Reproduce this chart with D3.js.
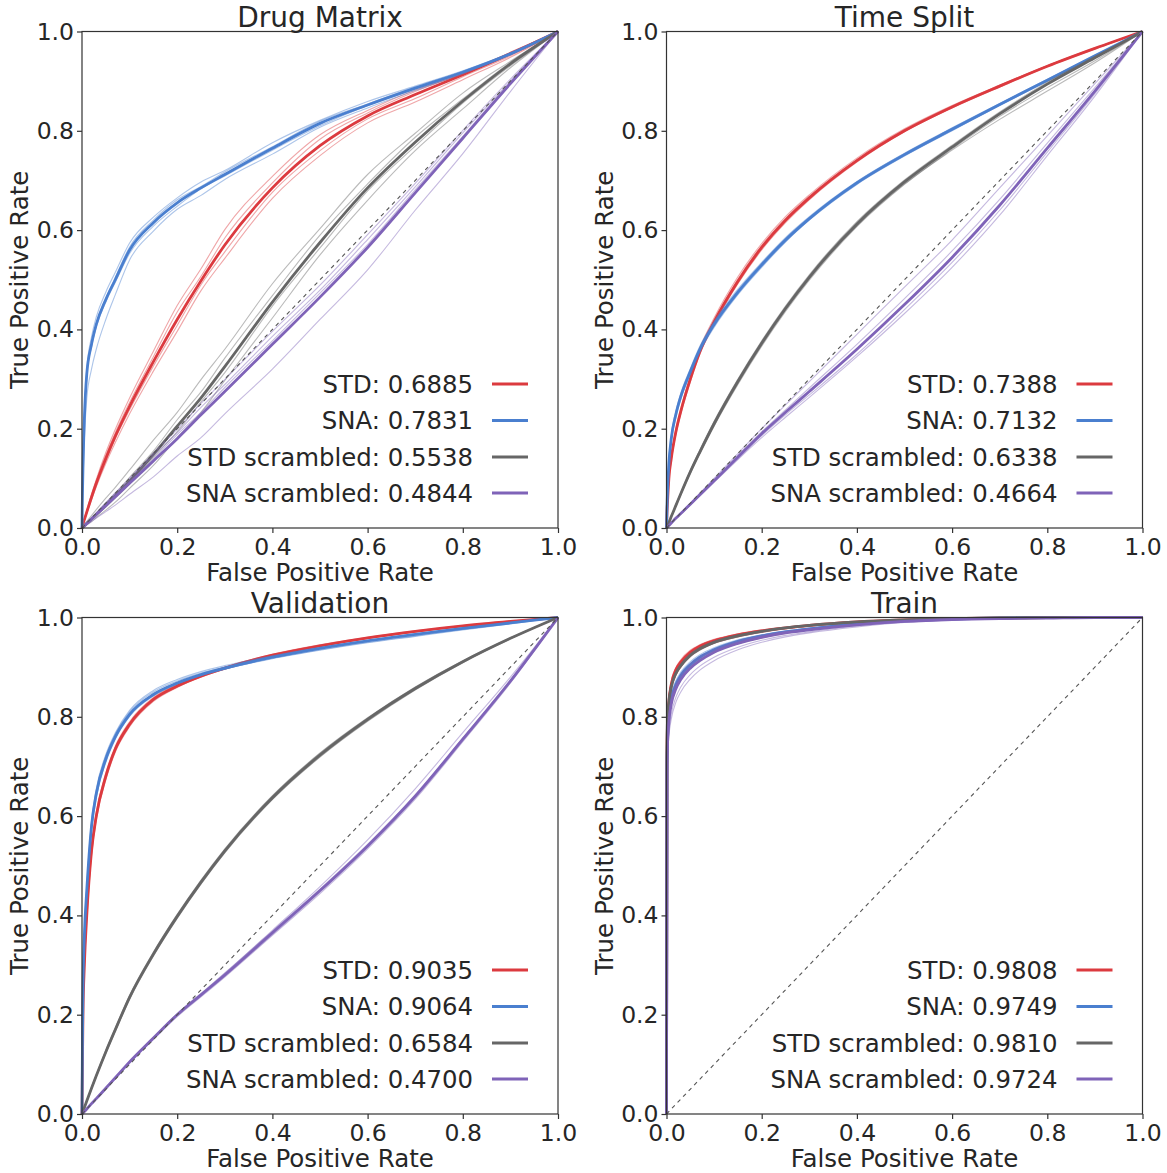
<!DOCTYPE html>
<html>
<head>
<meta charset="utf-8">
<script src="https://cdn.jsdelivr.net/npm/d3@7"></script>
<style>
  body { margin: 0; background: #ffffff; }
  svg text { font-family: "DejaVu Sans", sans-serif; fill: #262626; }
</style>
</head>
<body>
<svg id="chart" width="1167" height="1173"></svg>
<script>
// False positive rate grid shared by every ROC curve
const fpr = [0, 0.001, 0.002, 0.005, 0.01, 0.02, 0.03, 0.05, 0.07, 0.1, 0.15, 0.2, 0.25, 0.3, 0.4, 0.5, 0.6, 0.7, 0.8, 0.9, 1];

const panelTitles = ["Drug Matrix", "Time Split", "Validation", "Train"];
const seriesNames = ["STD", "SNA", "STD scrambled", "SNA scrambled"];
const seriesColors = ["#dc3a3f", "#4a7fcf", "#666666", "#7f63b8"];
const tickValues = [0, 0.2, 0.4, 0.6, 0.8, 1.0];

// Mean AUC per panel, in series order
const aucDrugMatrix = [0.6885, 0.7831, 0.5538, 0.4844];
const aucTimeSplit = [0.7388, 0.7132, 0.6338, 0.4664];
const aucValidation = [0.9035, 0.9064, 0.6584, 0.4700];
const aucTrain = [0.9808, 0.9749, 0.9810, 0.9724];

// ---------- Drug Matrix: mean TPR and per-fold TPR ----------
const dmStdMean = [0, 0.004, 0.008, 0.017, 0.032, 0.062, 0.09, 0.14, 0.185, 0.245, 0.335, 0.42, 0.498, 0.57, 0.685, 0.77, 0.83, 0.873, 0.913, 0.955, 1];
const dmStdFolds = [
  [0, 0.004, 0.009, 0.019, 0.036, 0.068, 0.098, 0.152, 0.199, 0.262, 0.356, 0.448, 0.522, 0.601, 0.708, 0.792, 0.841, 0.882, 0.915, 0.958, 1],
  [0, 0.003, 0.007, 0.015, 0.029, 0.057, 0.083, 0.13, 0.172, 0.23, 0.316, 0.396, 0.478, 0.543, 0.664, 0.75, 0.816, 0.858, 0.903, 0.948, 1],
  [0, 0.004, 0.008, 0.018, 0.034, 0.065, 0.094, 0.146, 0.192, 0.253, 0.345, 0.435, 0.507, 0.584, 0.695, 0.783, 0.836, 0.879, 0.916, 0.958, 1],
  [0, 0.003, 0.007, 0.016, 0.031, 0.06, 0.087, 0.135, 0.18, 0.238, 0.326, 0.408, 0.49, 0.556, 0.676, 0.76, 0.824, 0.865, 0.909, 0.951, 1]
];
const dmSnaMean = [0, 0.07, 0.12, 0.22, 0.31, 0.37, 0.41, 0.46, 0.50, 0.56, 0.615, 0.655, 0.685, 0.712, 0.765, 0.815, 0.852, 0.886, 0.918, 0.955, 1];
const dmSnaFolds = [
  [0, 0.05, 0.09, 0.18, 0.26, 0.32, 0.36, 0.42, 0.47, 0.54, 0.598, 0.642, 0.67, 0.702, 0.753, 0.807, 0.846, 0.881, 0.915, 0.953, 1],
  [0, 0.08, 0.13, 0.23, 0.32, 0.385, 0.425, 0.475, 0.515, 0.574, 0.626, 0.665, 0.697, 0.72, 0.776, 0.821, 0.859, 0.89, 0.921, 0.957, 1],
  [0, 0.07, 0.125, 0.225, 0.315, 0.372, 0.41, 0.462, 0.505, 0.566, 0.62, 0.661, 0.688, 0.717, 0.768, 0.819, 0.854, 0.888, 0.92, 0.956, 1],
  [0, 0.065, 0.115, 0.215, 0.305, 0.365, 0.405, 0.455, 0.495, 0.553, 0.608, 0.648, 0.683, 0.709, 0.761, 0.81, 0.851, 0.884, 0.917, 0.954, 1]
];
const dmStdScrMean = [0, 0.001, 0.002, 0.005, 0.009, 0.018, 0.027, 0.046, 0.065, 0.095, 0.148, 0.205, 0.262, 0.325, 0.455, 0.575, 0.685, 0.777, 0.86, 0.935, 1];
const dmStdScrFolds = [
  [0, 0.002, 0.003, 0.007, 0.013, 0.025, 0.037, 0.06, 0.082, 0.117, 0.177, 0.233, 0.299, 0.36, 0.492, 0.603, 0.712, 0.795, 0.876, 0.94, 1],
  [0, 0.001, 0.002, 0.005, 0.01, 0.02, 0.03, 0.05, 0.07, 0.102, 0.155, 0.218, 0.274, 0.342, 0.468, 0.59, 0.693, 0.787, 0.864, 0.938, 1],
  [0, 0.001, 0.002, 0.004, 0.008, 0.016, 0.025, 0.042, 0.06, 0.089, 0.142, 0.194, 0.254, 0.313, 0.447, 0.564, 0.679, 0.769, 0.856, 0.931, 1],
  [0, 0.001, 0.001, 0.003, 0.007, 0.013, 0.021, 0.036, 0.052, 0.08, 0.126, 0.182, 0.233, 0.297, 0.423, 0.55, 0.66, 0.76, 0.844, 0.927, 1]
];
const dmSnaScrMean = [0, 0.001, 0.002, 0.004, 0.009, 0.018, 0.027, 0.045, 0.063, 0.09, 0.135, 0.18, 0.228, 0.275, 0.37, 0.465, 0.565, 0.675, 0.785, 0.895, 1];
const dmSnaScrFolds = [
  [0, 0, 0.001, 0.003, 0.006, 0.013, 0.02, 0.033, 0.046, 0.068, 0.103, 0.145, 0.182, 0.23, 0.32, 0.42, 0.52, 0.64, 0.754, 0.879, 1],
  [0, 0.001, 0.002, 0.005, 0.01, 0.02, 0.03, 0.05, 0.069, 0.098, 0.146, 0.192, 0.243, 0.289, 0.386, 0.479, 0.581, 0.687, 0.796, 0.9, 1],
  [0, 0.001, 0.002, 0.005, 0.01, 0.019, 0.029, 0.047, 0.066, 0.094, 0.139, 0.188, 0.233, 0.283, 0.377, 0.473, 0.571, 0.681, 0.789, 0.898, 1],
  [0, 0.001, 0.002, 0.005, 0.011, 0.021, 0.031, 0.051, 0.071, 0.1, 0.151, 0.199, 0.251, 0.299, 0.396, 0.489, 0.591, 0.694, 0.801, 0.904, 1]
];

// ---------- Time Split ----------
const tsStdMean = [0, 0.03, 0.05, 0.1, 0.14, 0.195, 0.235, 0.3, 0.355, 0.415, 0.497, 0.565, 0.62, 0.665, 0.74, 0.8, 0.848, 0.89, 0.93, 0.966, 1];
const tsStdFolds = [
  [0, 0.028, 0.048, 0.095, 0.135, 0.19, 0.23, 0.294, 0.35, 0.41, 0.492, 0.56, 0.615, 0.661, 0.737, 0.798, 0.846, 0.888, 0.929, 0.965, 1],
  [0, 0.032, 0.053, 0.104, 0.145, 0.2, 0.24, 0.306, 0.362, 0.423, 0.506, 0.573, 0.627, 0.671, 0.745, 0.804, 0.851, 0.892, 0.931, 0.967, 1],
  [0, 0.03, 0.05, 0.098, 0.138, 0.193, 0.233, 0.298, 0.356, 0.418, 0.501, 0.569, 0.623, 0.668, 0.742, 0.802, 0.849, 0.891, 0.931, 0.966, 1],
  [0, 0.029, 0.049, 0.1, 0.142, 0.197, 0.236, 0.301, 0.353, 0.412, 0.494, 0.563, 0.618, 0.663, 0.739, 0.799, 0.847, 0.889, 0.93, 0.966, 1]
];
const tsSnaMean = [0, 0.04, 0.07, 0.13, 0.18, 0.23, 0.265, 0.315, 0.36, 0.41, 0.475, 0.53, 0.58, 0.623, 0.695, 0.752, 0.803, 0.853, 0.902, 0.951, 1];
const tsSnaFolds = [
  [0, 0.038, 0.066, 0.125, 0.174, 0.224, 0.259, 0.309, 0.354, 0.404, 0.47, 0.525, 0.576, 0.62, 0.692, 0.749, 0.8, 0.851, 0.9, 0.95, 1],
  [0, 0.043, 0.074, 0.136, 0.186, 0.236, 0.271, 0.321, 0.366, 0.416, 0.481, 0.535, 0.585, 0.627, 0.698, 0.755, 0.806, 0.855, 0.904, 0.952, 1],
  [0, 0.041, 0.072, 0.132, 0.182, 0.232, 0.267, 0.318, 0.362, 0.412, 0.478, 0.533, 0.583, 0.625, 0.697, 0.754, 0.805, 0.854, 0.903, 0.951, 1],
  [0, 0.039, 0.068, 0.128, 0.178, 0.227, 0.262, 0.312, 0.357, 0.407, 0.472, 0.527, 0.577, 0.621, 0.693, 0.75, 0.801, 0.852, 0.901, 0.95, 1]
];
const tsStdScrMean = [0, 0.0022, 0.0045, 0.011, 0.023, 0.046, 0.069, 0.113, 0.153, 0.21, 0.295, 0.372, 0.442, 0.505, 0.612, 0.697, 0.767, 0.834, 0.894, 0.947, 1];
const tsStdScrFolds = [
  [0, 0.0021, 0.0044, 0.011, 0.022, 0.044, 0.067, 0.11, 0.149, 0.205, 0.289, 0.366, 0.436, 0.499, 0.607, 0.692, 0.763, 0.829, 0.887, 0.941, 1],
  [0, 0.0023, 0.0046, 0.012, 0.024, 0.048, 0.071, 0.116, 0.157, 0.215, 0.3, 0.377, 0.447, 0.51, 0.617, 0.701, 0.771, 0.838, 0.898, 0.95, 1],
  [0, 0.0022, 0.0045, 0.011, 0.023, 0.047, 0.07, 0.115, 0.155, 0.213, 0.298, 0.375, 0.445, 0.508, 0.615, 0.699, 0.769, 0.836, 0.896, 0.948, 1],
  [0, 0.0021, 0.0043, 0.01, 0.022, 0.045, 0.068, 0.111, 0.151, 0.207, 0.292, 0.369, 0.439, 0.502, 0.609, 0.693, 0.761, 0.823, 0.88, 0.937, 1]
];
const tsSnaScrMean = [0, 0.001, 0.002, 0.005, 0.01, 0.02, 0.029, 0.048, 0.067, 0.095, 0.143, 0.19, 0.233, 0.275, 0.36, 0.45, 0.545, 0.65, 0.765, 0.88, 1];
const tsSnaScrFolds = [
  [0, 0.001, 0.002, 0.005, 0.01, 0.02, 0.03, 0.05, 0.07, 0.1, 0.15, 0.2, 0.248, 0.295, 0.39, 0.485, 0.58, 0.685, 0.79, 0.895, 1],
  [0, 0.001, 0.002, 0.005, 0.01, 0.02, 0.03, 0.049, 0.068, 0.097, 0.146, 0.194, 0.238, 0.282, 0.37, 0.462, 0.558, 0.662, 0.775, 0.887, 1],
  [0, 0.001, 0.002, 0.005, 0.009, 0.019, 0.028, 0.046, 0.064, 0.092, 0.138, 0.182, 0.223, 0.263, 0.345, 0.432, 0.525, 0.63, 0.75, 0.87, 1],
  [0, 0.001, 0.002, 0.005, 0.01, 0.019, 0.028, 0.047, 0.066, 0.094, 0.14, 0.186, 0.228, 0.268, 0.35, 0.44, 0.535, 0.64, 0.757, 0.875, 1]
];

// ---------- Validation ----------
const vaStdMean = [0, 0.1, 0.2, 0.3, 0.4, 0.53, 0.6, 0.68, 0.735, 0.785, 0.835, 0.862, 0.882, 0.898, 0.924, 0.943, 0.959, 0.972, 0.983, 0.992, 1];
const vaStdFolds = [
  [0, 0.09, 0.19, 0.29, 0.39, 0.52, 0.592, 0.673, 0.729, 0.78, 0.831, 0.859, 0.88, 0.896, 0.922, 0.942, 0.958, 0.971, 0.982, 0.992, 1],
  [0, 0.11, 0.21, 0.31, 0.41, 0.54, 0.608, 0.687, 0.741, 0.79, 0.839, 0.865, 0.884, 0.9, 0.926, 0.945, 0.96, 0.973, 0.984, 0.993, 1],
  [0, 0.1, 0.2, 0.305, 0.405, 0.535, 0.604, 0.683, 0.738, 0.787, 0.837, 0.864, 0.883, 0.899, 0.925, 0.944, 0.959, 0.972, 0.983, 0.992, 1],
  [0, 0.1, 0.195, 0.295, 0.395, 0.525, 0.596, 0.677, 0.732, 0.782, 0.833, 0.86, 0.881, 0.897, 0.923, 0.942, 0.958, 0.971, 0.982, 0.991, 1]
];
const vaSnaMean = [0, 0.15, 0.25, 0.36, 0.45, 0.58, 0.645, 0.715, 0.76, 0.805, 0.845, 0.868, 0.885, 0.898, 0.92, 0.938, 0.953, 0.966, 0.978, 0.989, 1];
const vaSnaFolds = [
  [0, 0.14, 0.24, 0.35, 0.44, 0.57, 0.637, 0.708, 0.755, 0.801, 0.842, 0.866, 0.883, 0.896, 0.917, 0.934, 0.949, 0.962, 0.975, 0.987, 1],
  [0, 0.16, 0.26, 0.37, 0.46, 0.59, 0.655, 0.724, 0.768, 0.813, 0.853, 0.875, 0.891, 0.903, 0.923, 0.94, 0.954, 0.967, 0.979, 0.99, 1],
  [0, 0.15, 0.25, 0.365, 0.455, 0.585, 0.65, 0.72, 0.765, 0.81, 0.85, 0.872, 0.888, 0.9, 0.921, 0.938, 0.952, 0.965, 0.977, 0.989, 1],
  [0, 0.15, 0.245, 0.355, 0.445, 0.575, 0.64, 0.711, 0.757, 0.802, 0.843, 0.866, 0.883, 0.896, 0.918, 0.935, 0.95, 0.963, 0.976, 0.988, 1]
];
const vaStdScrMean = [0, 0.0026, 0.005, 0.013, 0.026, 0.052, 0.077, 0.125, 0.17, 0.235, 0.322, 0.398, 0.467, 0.53, 0.637, 0.723, 0.795, 0.857, 0.911, 0.958, 1];
const vaStdScrFolds = [
  [0, 0.0025, 0.005, 0.012, 0.025, 0.05, 0.075, 0.122, 0.167, 0.231, 0.318, 0.394, 0.463, 0.526, 0.633, 0.719, 0.791, 0.854, 0.909, 0.957, 1],
  [0, 0.0027, 0.005, 0.014, 0.027, 0.054, 0.079, 0.128, 0.173, 0.239, 0.326, 0.402, 0.471, 0.534, 0.641, 0.727, 0.798, 0.86, 0.913, 0.959, 1],
  [0, 0.0026, 0.005, 0.013, 0.026, 0.053, 0.078, 0.127, 0.172, 0.237, 0.324, 0.4, 0.469, 0.532, 0.64, 0.726, 0.797, 0.859, 0.912, 0.958, 1],
  [0, 0.0025, 0.005, 0.013, 0.025, 0.051, 0.076, 0.124, 0.168, 0.233, 0.32, 0.396, 0.464, 0.527, 0.634, 0.72, 0.792, 0.855, 0.91, 0.958, 1]
];
const vaSnaScrMean = [0, 0.001, 0.002, 0.005, 0.01, 0.021, 0.031, 0.052, 0.073, 0.105, 0.153, 0.2, 0.24, 0.28, 0.365, 0.45, 0.54, 0.64, 0.755, 0.872, 1];
const vaSnaScrFolds = [
  [0, 0.001, 0.002, 0.005, 0.01, 0.021, 0.031, 0.052, 0.073, 0.104, 0.152, 0.199, 0.241, 0.283, 0.37, 0.458, 0.552, 0.655, 0.768, 0.88, 1],
  [0, 0.001, 0.002, 0.005, 0.01, 0.02, 0.03, 0.05, 0.071, 0.102, 0.15, 0.196, 0.236, 0.276, 0.36, 0.444, 0.534, 0.634, 0.75, 0.868, 1],
  [0, 0.001, 0.002, 0.005, 0.011, 0.021, 0.032, 0.053, 0.074, 0.106, 0.155, 0.202, 0.243, 0.284, 0.368, 0.453, 0.543, 0.643, 0.757, 0.873, 1],
  [0, 0.001, 0.002, 0.005, 0.01, 0.02, 0.03, 0.051, 0.072, 0.103, 0.151, 0.198, 0.238, 0.278, 0.362, 0.447, 0.537, 0.637, 0.752, 0.87, 1]
];

// ---------- Train ----------
const trStdMean = [0, 0.72, 0.78, 0.83, 0.865, 0.895, 0.91, 0.93, 0.942, 0.953, 0.965, 0.973, 0.979, 0.984, 0.991, 0.995, 0.998, 0.999, 1, 1, 1];
const trStdFolds = [
  [0, 0.7, 0.76, 0.815, 0.852, 0.884, 0.9, 0.922, 0.935, 0.948, 0.961, 0.97, 0.977, 0.982, 0.99, 0.995, 0.998, 0.999, 1, 1, 1],
  [0, 0.73, 0.79, 0.838, 0.872, 0.9, 0.915, 0.934, 0.945, 0.956, 0.967, 0.975, 0.98, 0.985, 0.992, 0.996, 0.998, 0.999, 1, 1, 1],
  [0, 0.72, 0.785, 0.835, 0.868, 0.898, 0.912, 0.932, 0.944, 0.955, 0.966, 0.974, 0.98, 0.984, 0.991, 0.995, 0.998, 0.999, 1, 1, 1],
  [0, 0.68, 0.74, 0.79, 0.83, 0.862, 0.878, 0.9, 0.915, 0.93, 0.947, 0.959, 0.968, 0.975, 0.986, 0.993, 0.997, 0.999, 1, 1, 1]
];
const trSnaMean = [0, 0.7, 0.75, 0.8, 0.835, 0.865, 0.883, 0.905, 0.92, 0.935, 0.952, 0.963, 0.971, 0.977, 0.987, 0.993, 0.997, 0.999, 1, 1, 1];
const trSnaFolds = [
  [0, 0.69, 0.74, 0.79, 0.826, 0.857, 0.876, 0.899, 0.915, 0.931, 0.949, 0.961, 0.969, 0.976, 0.986, 0.992, 0.996, 0.998, 0.999, 1, 1],
  [0, 0.71, 0.76, 0.81, 0.845, 0.873, 0.89, 0.911, 0.925, 0.939, 0.955, 0.965, 0.973, 0.979, 0.988, 0.994, 0.997, 0.999, 1, 1, 1],
  [0, 0.7, 0.755, 0.805, 0.84, 0.87, 0.887, 0.908, 0.922, 0.937, 0.953, 0.964, 0.972, 0.978, 0.987, 0.993, 0.997, 0.999, 1, 1, 1],
  [0, 0.695, 0.745, 0.795, 0.83, 0.86, 0.879, 0.902, 0.917, 0.933, 0.95, 0.962, 0.97, 0.976, 0.986, 0.993, 0.996, 0.998, 1, 1, 1]
];
const trStdScrMean = [0, 0.74, 0.79, 0.83, 0.86, 0.888, 0.903, 0.924, 0.937, 0.95, 0.963, 0.972, 0.979, 0.984, 0.991, 0.995, 0.998, 0.999, 1, 1, 1];
const trStdScrFolds = [
  [0, 0.73, 0.78, 0.825, 0.855, 0.884, 0.9, 0.921, 0.934, 0.948, 0.961, 0.971, 0.978, 0.983, 0.99, 0.995, 0.998, 0.999, 1, 1, 1],
  [0, 0.75, 0.8, 0.836, 0.865, 0.892, 0.906, 0.927, 0.939, 0.952, 0.965, 0.973, 0.98, 0.985, 0.991, 0.996, 0.998, 0.999, 1, 1, 1],
  [0, 0.74, 0.79, 0.832, 0.862, 0.89, 0.905, 0.925, 0.938, 0.951, 0.964, 0.972, 0.979, 0.984, 0.991, 0.995, 0.998, 0.999, 1, 1, 1],
  [0, 0.735, 0.785, 0.828, 0.858, 0.886, 0.901, 0.922, 0.936, 0.949, 0.962, 0.971, 0.978, 0.983, 0.99, 0.995, 0.998, 0.999, 1, 1, 1]
];
const trSnaScrMean = [0, 0.68, 0.74, 0.79, 0.825, 0.857, 0.875, 0.898, 0.913, 0.93, 0.948, 0.96, 0.969, 0.975, 0.985, 0.992, 0.996, 0.998, 0.999, 1, 1];
const trSnaScrFolds = [
  [0, 0.65, 0.71, 0.76, 0.795, 0.83, 0.85, 0.876, 0.894, 0.913, 0.935, 0.95, 0.961, 0.969, 0.981, 0.99, 0.995, 0.998, 0.999, 1, 1],
  [0, 0.66, 0.72, 0.77, 0.805, 0.84, 0.86, 0.885, 0.902, 0.92, 0.94, 0.954, 0.964, 0.971, 0.983, 0.991, 0.995, 0.998, 0.999, 1, 1],
  [0, 0.69, 0.75, 0.8, 0.835, 0.865, 0.882, 0.904, 0.918, 0.934, 0.951, 0.962, 0.971, 0.977, 0.986, 0.993, 0.996, 0.998, 0.999, 1, 1],
  [0, 0.7, 0.755, 0.803, 0.838, 0.868, 0.885, 0.907, 0.921, 0.936, 0.953, 0.964, 0.972, 0.978, 0.987, 0.993, 0.997, 0.999, 1, 1, 1]
];

// Assemble the four panels (series order: STD, SNA, STD scrambled, SNA scrambled)
const panels = [
  { title: panelTitles[0], auc: aucDrugMatrix, left: 82, top: 31.5,
    means: [dmStdMean, dmSnaMean, dmStdScrMean, dmSnaScrMean],
    folds: [dmStdFolds, dmSnaFolds, dmStdScrFolds, dmSnaScrFolds] },
  { title: panelTitles[1], auc: aucTimeSplit, left: 666.5, top: 31.5,
    means: [tsStdMean, tsSnaMean, tsStdScrMean, tsSnaScrMean],
    folds: [tsStdFolds, tsSnaFolds, tsStdScrFolds, tsSnaScrFolds] },
  { title: panelTitles[2], auc: aucValidation, left: 82, top: 617.5,
    means: [vaStdMean, vaSnaMean, vaStdScrMean, vaSnaScrMean],
    folds: [vaStdFolds, vaSnaFolds, vaStdScrFolds, vaSnaScrFolds] },
  { title: panelTitles[3], auc: aucTrain, left: 666.5, top: 617.5,
    means: [trStdMean, trSnaMean, trStdScrMean, trSnaScrMean],
    folds: [trStdFolds, trSnaFolds, trStdScrFolds, trSnaScrFolds] }
];

const W = 476, H = 496.5;
const svg = d3.select("#chart");

const x = d3.scaleLinear().domain([0, 1]).range([0, W]);
const y = d3.scaleLinear().domain([0, 1]).range([H, 0]);
const line = d3.line()
  .x(d => x(d[0]))
  .y(d => y(d[1]))
  .curve(d3.curveMonotoneX);
const toPoints = tpr => tpr.map((t, i) => [fpr[i], t]);

panels.forEach(p => {
  const g = svg.append("g").attr("transform", `translate(${p.left},${p.top})`);

  // curves: thin translucent folds, then the thick mean
  p.means.forEach((mean, s) => {
    const color = seriesColors[s];
    p.folds[s].forEach(fold => {
      g.append("path")
        .attr("d", line(toPoints(fold)))
        .attr("fill", "none")
        .attr("stroke", color)
        .attr("stroke-opacity", 0.45)
        .attr("stroke-width", 1.1);
    });
    g.append("path")
      .attr("d", line(toPoints(mean)))
      .attr("fill", "none")
      .attr("stroke", color)
      .attr("stroke-width", 2.8)
      .attr("stroke-linejoin", "round");
  });

  // chance diagonal
  g.append("line")
    .attr("x1", x(0)).attr("y1", y(0))
    .attr("x2", x(1)).attr("y2", y(1))
    .attr("stroke", "#555555")
    .attr("stroke-width", 1.1)
    .attr("stroke-dasharray", "4,4");

  // frame
  g.append("rect")
    .attr("x", 0).attr("y", 0)
    .attr("width", W).attr("height", H)
    .attr("fill", "none")
    .attr("stroke", "#333333")
    .attr("stroke-width", 1.2);

  // axes
  const fmt = d3.format(".1f");
  const xAxis = g.append("g").attr("transform", `translate(0,${H})`)
    .call(d3.axisBottom(x).tickValues(tickValues).tickFormat(fmt).tickSize(5).tickPadding(5));
  const yAxis = g.append("g")
    .call(d3.axisLeft(y).tickValues(tickValues).tickFormat(fmt).tickSize(5).tickPadding(3));
  [xAxis, yAxis].forEach(a => {
    a.select(".domain").remove();
    a.selectAll(".tick line").attr("stroke", "#333333").attr("stroke-width", 1.2);
    a.selectAll(".tick text")
      .style("font-family", '"DejaVu Sans", sans-serif')
      .style("font-size", "23.5px")
      .attr("fill", "#262626");
  });

  // title and axis labels
  g.append("text")
    .attr("x", W / 2).attr("y", -5)
    .attr("text-anchor", "middle")
    .style("font-size", "28px")
    .text(p.title);
  g.append("text")
    .attr("x", W / 2).attr("y", H + 53)
    .attr("text-anchor", "middle")
    .style("font-size", "24.5px")
    .text("False Positive Rate");
  g.append("text")
    .attr("transform", `translate(-54,${H / 2}) rotate(-90)`)
    .attr("text-anchor", "middle")
    .style("font-size", "24.5px")
    .text("True Positive Rate");

  // legend, anchored to the lower right corner
  const legendRows = [144, 107.5, 71, 35];
  seriesNames.forEach((name, s) => {
    const ly = H - legendRows[s];
    g.append("text")
      .attr("x", W - 85).attr("y", ly)
      .attr("text-anchor", "end")
      .attr("dominant-baseline", "central")
      .style("font-size", "24.4px")
      .text(`${name}: ${p.auc[s].toFixed(4)}`);
    g.append("line")
      .attr("x1", W - 66).attr("x2", W - 30)
      .attr("y1", ly).attr("y2", ly)
      .attr("stroke", seriesColors[s])
      .attr("stroke-width", 3);
  });
});
</script>
</body>
</html>
